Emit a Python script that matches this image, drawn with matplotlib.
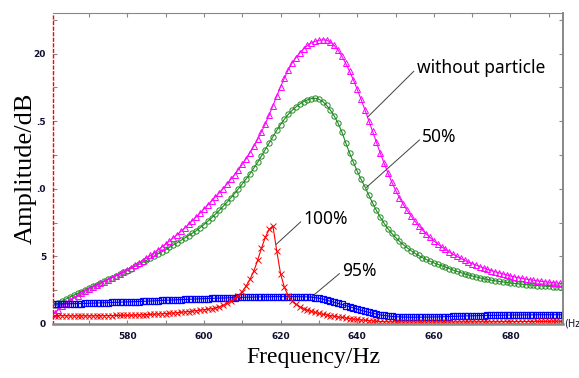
import numpy as np
import matplotlib
matplotlib.use("Agg")
import matplotlib.pyplot as plt

# frequency grid (Hz), one reading per 1 Hz
freq = np.arange(561, 695)

# without particle
amp_none = [0.80, 1.05, 1.30, 1.52, 1.75, 1.93, 2.10, 2.27, 2.43, 2.58,
            2.72, 2.86, 3.00, 3.14, 3.28, 3.42, 3.56, 3.70, 3.85, 4.00,
            4.17, 4.34, 4.51, 4.69, 4.88, 5.07, 5.27, 5.47, 5.68, 5.90,
            6.13, 6.36, 6.60, 6.85, 7.10, 7.37, 7.64, 7.92, 8.20, 8.50,
            8.79, 9.09, 9.39, 9.70, 10.01, 10.35, 10.70, 11.05, 11.42, 11.80,
            12.22, 12.66, 13.14, 13.65, 14.20, 14.80, 15.45, 16.15, 16.85, 17.55,
            18.20, 18.80, 19.30, 19.70, 20.05, 20.35, 20.60, 20.78, 20.90, 20.98,
            21.02, 21.00, 20.85, 20.60, 20.25, 19.80, 19.28, 18.70, 18.05, 17.35,
            16.62, 15.85, 15.05, 14.25, 13.45, 12.65, 11.90, 11.18, 10.50, 9.90,
            9.35, 8.85, 8.40, 8.00, 7.62, 7.28, 6.96, 6.67, 6.40, 6.15,
            5.92, 5.71, 5.52, 5.33, 5.16, 5.00, 4.85, 4.71, 4.58, 4.46,
            4.35, 4.24, 4.14, 4.04, 3.95, 3.86, 3.78, 3.70, 3.62, 3.55,
            3.48, 3.42, 3.37, 3.32, 3.27, 3.23, 3.19, 3.15, 3.12, 3.09,
            3.06, 3.03, 3.00, 2.97]

# 50%
amp_50 = [1.40, 1.55, 1.70, 1.85, 2.00, 2.13, 2.26, 2.39, 2.52, 2.65,
          2.78, 2.91, 3.04, 3.17, 3.30, 3.43, 3.56, 3.69, 3.82, 3.95,
          4.10, 4.25, 4.40, 4.55, 4.70, 4.86, 5.02, 5.18, 5.34, 5.50,
          5.67, 5.84, 6.01, 6.18, 6.36, 6.54, 6.72, 6.90, 7.12, 7.35,
          7.60, 7.85, 8.12, 8.40, 8.70, 9.00, 9.32, 9.65, 10.00, 10.35,
          10.72, 11.10, 11.52, 11.95, 12.42, 12.90, 13.38, 13.85, 14.32, 14.75,
          15.15, 15.50, 15.80, 16.05, 16.27, 16.45, 16.58, 16.67, 16.70, 16.62,
          16.45, 16.18, 15.82, 15.38, 14.85, 14.20, 13.40, 12.65, 11.95, 11.30,
          10.70, 10.15, 9.55, 8.95, 8.40, 7.90, 7.45, 7.05, 6.70, 6.40,
          6.12, 5.87, 5.64, 5.43, 5.24, 5.07, 4.91, 4.77, 4.64, 4.52,
          4.41, 4.31, 4.21, 4.10, 3.99, 3.89, 3.80, 3.71, 3.63, 3.55,
          3.48, 3.41, 3.35, 3.29, 3.24, 3.19, 3.15, 3.11, 3.07, 3.03,
          3.00, 2.97, 2.94, 2.91, 2.89, 2.86, 2.84, 2.82, 2.80, 2.78,
          2.76, 2.74, 2.72, 2.70]

# 95%
amp_95 = [1.48, 1.48, 1.49, 1.49, 1.50, 1.50, 1.51, 1.51, 1.52, 1.53,
          1.54, 1.55, 1.56, 1.57, 1.58, 1.59, 1.60, 1.61, 1.62, 1.63,
          1.64, 1.65, 1.66, 1.67, 1.68, 1.70, 1.71, 1.72, 1.74, 1.75,
          1.76, 1.77, 1.79, 1.80, 1.81, 1.82, 1.83, 1.85, 1.86, 1.87,
          1.88, 1.89, 1.90, 1.91, 1.92, 1.93, 1.94, 1.95, 1.96, 1.97,
          1.98, 1.98, 1.99, 2.00, 2.00, 2.01, 2.01, 2.02, 2.02, 2.02,
          2.02, 2.02, 2.02, 2.02, 2.02, 2.01, 2.00, 1.98, 1.95, 1.90,
          1.84, 1.76, 1.68, 1.60, 1.52, 1.44, 1.36, 1.27, 1.18, 1.10,
          1.01, 0.93, 0.86, 0.79, 0.73, 0.67, 0.63, 0.59, 0.56, 0.54,
          0.52, 0.51, 0.50, 0.50, 0.50, 0.50, 0.50, 0.51, 0.51, 0.52,
          0.52, 0.53, 0.54, 0.55, 0.56, 0.57, 0.58, 0.59, 0.60, 0.60,
          0.61, 0.62, 0.62, 0.63, 0.63, 0.64, 0.64, 0.65, 0.65, 0.66,
          0.66, 0.66, 0.67, 0.67, 0.67, 0.67, 0.68, 0.68, 0.68, 0.68,
          0.68, 0.68, 0.68, 0.68]

# 100%
amp_100 = [0.62, 0.62, 0.61, 0.61, 0.60, 0.60, 0.60, 0.60, 0.60, 0.60,
           0.60, 0.61, 0.61, 0.61, 0.62, 0.62, 0.63, 0.63, 0.64, 0.64,
           0.65, 0.66, 0.67, 0.68, 0.69, 0.70, 0.72, 0.73, 0.75, 0.77,
           0.79, 0.81, 0.83, 0.86, 0.89, 0.92, 0.95, 0.98, 1.02, 1.05,
           1.09, 1.13, 1.17, 1.26, 1.38, 1.53, 1.72, 1.90, 2.10, 2.40,
           2.80, 3.30, 3.90, 4.70, 5.60, 6.40, 7.00, 7.25, 5.40, 3.70,
           2.70, 2.10, 1.70, 1.45, 1.27, 1.13, 1.02, 0.93, 0.85, 0.78,
           0.72, 0.67, 0.62, 0.57, 0.52, 0.48, 0.44, 0.40, 0.36, 0.33,
           0.30, 0.27, 0.25, 0.22, 0.20, 0.18, 0.17, 0.16, 0.15, 0.15,
           0.14, 0.14, 0.14, 0.14, 0.14, 0.14, 0.14, 0.14, 0.14, 0.14,
           0.14, 0.14, 0.14, 0.14, 0.15, 0.15, 0.15, 0.15, 0.15, 0.15,
           0.15, 0.16, 0.16, 0.16, 0.16, 0.16, 0.17, 0.17, 0.17, 0.17,
           0.17, 0.18, 0.18, 0.18, 0.18, 0.18, 0.19, 0.19, 0.19, 0.19,
           0.20, 0.20, 0.20, 0.20]

x_ticks = [580, 600, 620, 640, 660, 680]
y_ticks = [0, 5, 10, 15, 20]
y_ticklabels = ["0", "5", ".0", ".5", "20"]

fig = plt.figure(figsize=(5.79, 3.78), dpi=100)
ax = fig.add_axes([0.0915, 0.143, 0.8815, 0.8225])

ax.plot(freq, amp_50, color="#1f8a1f", lw=0.8, marker="o", ms=3.8,
        mfc="none", mew=0.7)
ax.plot(freq, amp_none, color="#ff00ff", lw=0.8, marker="^", ms=4.5,
        mfc="none", mew=0.7)
ax.plot(freq, amp_95, color="#0000ff", lw=0.8, marker="s", ms=4.0,
        mfc="none", mew=0.9)
ax.plot(freq, amp_100, color="#ff0000", lw=0.8, marker="x", ms=4.4,
        mew=0.7)

ax.set_xlim(560.6, 693.8)
ax.set_ylim(0, 23)
ax.set_xticks(x_ticks)
ax.set_xticks(np.arange(570, 694, 10), minor=True)
ax.set_yticks(y_ticks)
ax.set_yticklabels(y_ticklabels)
ax.set_yticks(np.arange(2.5, 23, 5), minor=True)
ax.tick_params(which="both", direction="in", top=True, right=True,
               color="#888888", length=3, width=0.8)
ax.tick_params(axis="x", pad=6, labelsize=6.5, labelcolor="#101030")
ax.tick_params(axis="y", pad=5, labelsize=6.5, labelcolor="#101030")
for lab in ax.get_xticklabels() + ax.get_yticklabels():
    lab.set_fontweight("bold")

for side in ["top", "right", "bottom"]:
    ax.spines[side].set_color("#888888")
ax.spines["top"].set_linewidth(0.8)
ax.spines["right"].set_linewidth(1.4)
ax.spines["bottom"].set_linewidth(1.8)
ax.spines["left"].set_color("#ff0000")
ax.spines["left"].set_linestyle((0, (2, 2)))
ax.spines["left"].set_linewidth(1.0)

ann = dict(arrowstyle="-", color="#404040", lw=0.7, shrinkA=0, shrinkB=0,
           relpos=(0, 0.5))
tfont = dict(family="Noto Sans", fontsize=12.5, ha="left", va="center")
ax.annotate("without particle", xy=(642.7, 15.3), xytext=(655.5, 18.9),
            arrowprops=ann, **tfont)
ax.annotate("50%", xy=(642.4, 10.1), xytext=(657.0, 13.8),
            arrowprops=ann, **tfont)
ax.annotate("100%", xy=(618.9, 5.9), xytext=(626.0, 7.75),
            arrowprops=ann, **tfont)
ax.annotate("95%", xy=(628.0, 1.98), xytext=(636.1, 3.9),
            arrowprops=ann, **tfont)

fig.text(0.975, 0.143, "(Hz)", fontsize=7, va="center", ha="left",
         color="#101030")
fig.text(0.045, 0.555, "Amplitude/dB", rotation=90, family="Liberation Serif",
         fontsize=19, ha="center", va="center")
fig.text(0.542, 0.055, "Frequency/Hz", family="Liberation Serif",
         fontsize=17, ha="center", va="center")

fig.savefig("out.png", dpi=100)
